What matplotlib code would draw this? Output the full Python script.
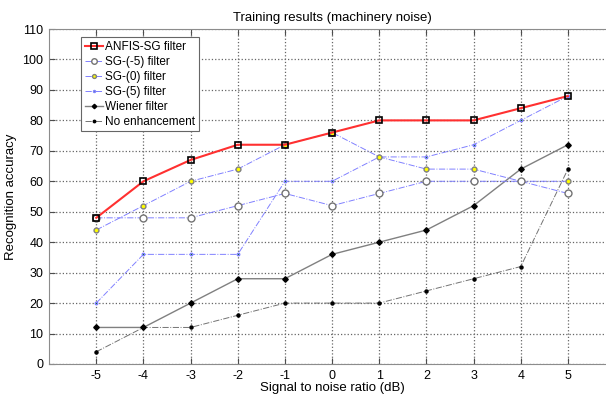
import matplotlib
matplotlib.use("Agg")
import matplotlib.pyplot as plt

plt.rcParams['font.family'] = ['Liberation Sans', 'DejaVu Sans']
plt.rcParams['axes.unicode_minus'] = False

snr = [-5, -4, -3, -2, -1, 0, 1, 2, 3, 4, 5]
anfis_sg = [48, 60, 67, 72, 72, 76, 80, 80, 80, 84, 88]
sg_m5 = [48, 48, 48, 52, 56, 52, 56, 60, 60, 60, 56]
sg_0 = [44, 52, 60, 64, 72, 76, 68, 64, 64, 60, 60]
sg_5 = [20, 36, 36, 36, 60, 60, 68, 68, 72, 80, 88]
wiener = [12, 12, 20, 28, 28, 36, 40, 44, 52, 64, 72]
no_enh = [4, 12, 12, 16, 20, 20, 20, 24, 28, 32, 64]

fig = plt.figure(figsize=(6.06, 3.95), dpi=100)
# the original picture is cropped on the right, so the axes run past the edge
ax = fig.add_axes([0.081, 0.0785, 0.934, 0.848])

blue = (0.5, 0.5, 1.0)
ax.plot(snr, no_enh, color='0.45', ls='-.', lw=0.7, marker='o', ms=2.2,
        mfc='k', mec='k', label='No enhancement', zorder=3)
ax.plot(snr, wiener, color='0.5', ls='-', lw=1.0, marker='D', ms=2.8,
        mfc='k', mec='k', label='Wiener filter', zorder=3)
ax.plot(snr, sg_5, color=blue, ls='-.', lw=0.7, marker='o', ms=1.8,
        mfc='green', mec=blue, label='SG-(5) filter', zorder=4)
ax.plot(snr, sg_0, color=blue, ls='-.', lw=0.7, marker='o', ms=3.5,
        mfc='yellow', mec='0.5', label='SG-(0) filter', zorder=4)
ax.plot(snr, sg_m5, color=blue, ls='-.', lw=0.7, marker='o', ms=5,
        mfc='white', mec='0.45', label='SG-(-5) filter', zorder=4)
ax.plot(snr, anfis_sg, color='#ff3030', ls='-', lw=1.5, marker='s', ms=5,
        mfc='none', mec='k', mew=1.2, label='ANFIS-SG filter', zorder=5)

ax.set_xlim(-6, 6)
ax.set_ylim(0, 110)
ax.set_xticks(snr)
ax.set_yticks(range(0, 111, 10))
ax.tick_params(labelsize=9, direction='in', length=4, color='0.3',
               top=True, right=True, pad=4)
ax.grid(True, ls=':', color='0.4', lw=0.9)
for s in ax.spines.values():
    s.set_color('0.55')

ax.set_title('Training results (machinery noise)', fontsize=9.5, pad=6)
ax.set_xlabel('Signal to noise ratio (dB)', fontsize=9.5, labelpad=0)
ax.set_ylabel('Recognition accuracy', fontsize=9.5, labelpad=4)

handles, labels = ax.get_legend_handles_labels()
leg = ax.legend(handles[::-1], labels[::-1], loc='upper left',
                bbox_to_anchor=(0.057, 0.975), fontsize=8.5, handlelength=1.5,
                handletextpad=0.2, borderpad=0.3, labelspacing=0.25,
                fancybox=False, framealpha=1, borderaxespad=0, markerscale=0.8)
leg.get_frame().set_edgecolor('0.4')
leg.get_frame().set_linewidth(0.8)

fig.savefig('out.png', dpi=100)
